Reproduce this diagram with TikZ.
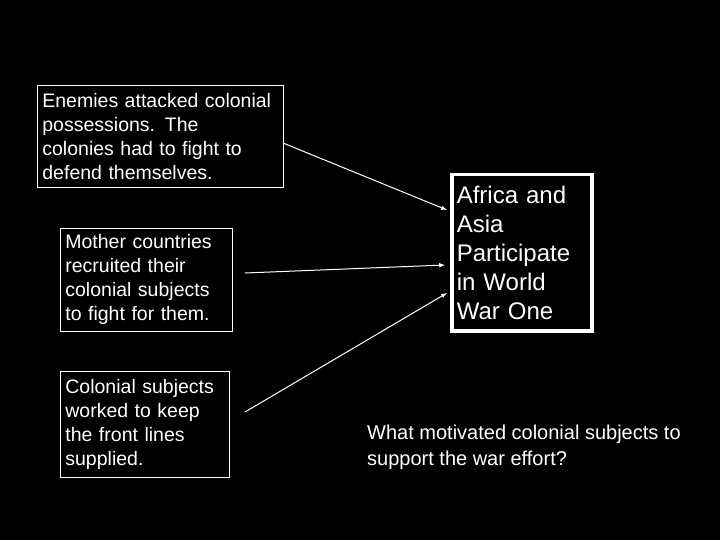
\documentclass[tikz,border=0pt]{standalone}
\usepackage{fontspec}
\setmainfont{Liberation Sans}
\begin{document}
\begin{tikzpicture}[x=1pt,y=-1pt,
  box/.style={draw=white,line width=0.8pt,text=white,align=left,anchor=north west,inner sep=5pt,font=\fontsize{19.5}{24}\selectfont},
  arr/.style={draw=white,line width=1pt,-latex}]
\fill[black] (0,0) rectangle (720,540);
\useasboundingbox (0,0) rectangle (720,540);
\node[box,minimum width=246pt,minimum height=102pt,text width=236pt,inner ysep=2pt] (a) at (37,85) {Enemies attacked colonial\\possessions. The\\colonies had to fight to\\defend themselves.};
\node[box,minimum width=172pt,minimum height=103pt,text width=162pt] (b) at (60,228) {Mother countries\\recruited their\\colonial subjects\\to fight for them.};
\node[box,minimum width=169pt,minimum height=106pt,text width=159pt] (c) at (60,371) {Colonial subjects\\worked to keep\\the front lines\\supplied.};
\node[draw=white,line width=3.5pt,text=white,align=left,anchor=north west,minimum width=140pt,minimum height=156pt,text width=130pt,inner sep=4pt,font=\fontsize{24}{29}\selectfont] (m) at (450,173) {Africa and\\Asia\\Participate\\in World\\War One};
\coordinate (a1) at (283,143);
\coordinate (b1) at (245,273);
\coordinate (c1) at (245,412);
\draw[arr] (a1) -- (447,210);
\draw[arr] (b1) -- (445,265);
\draw[arr] (c1) -- (447,293);
\node[text=white,align=left,anchor=north west,inner sep=0pt,font=\fontsize{20}{26}\selectfont] (q) at (367,425) {What motivated colonial subjects to\\support the war effort?};
\end{tikzpicture}
\end{document}
